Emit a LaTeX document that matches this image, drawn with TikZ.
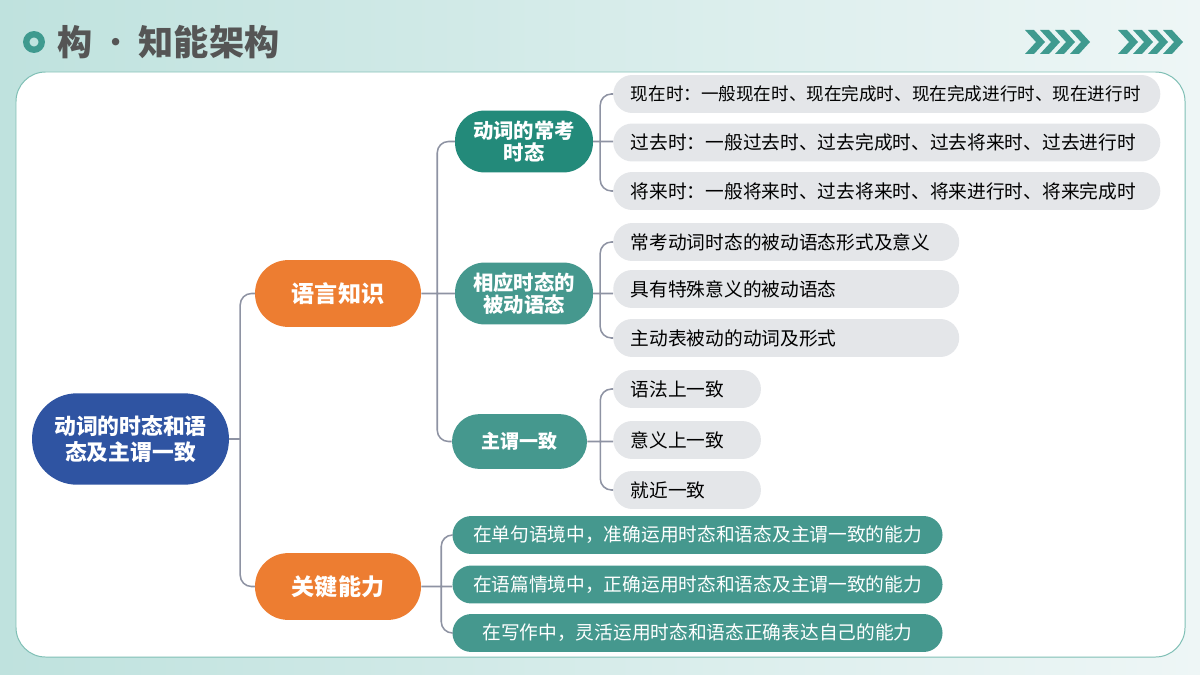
\documentclass[tikz,border=0pt]{standalone}
\usepackage{fontspec}
\newfontfamily\cjk{Noto Sans CJK SC}
\definecolor{rootBlue}{HTML}{2F54A2}
\definecolor{topicOrange}{HTML}{ED7D31}
\definecolor{tenseTeal}{HTML}{238A7A}
\definecolor{subTeal}{HTML}{45988E}
\definecolor{leafGray}{HTML}{E4E6E9}
\definecolor{lineGray}{HTML}{8E93A3}
\definecolor{titleGray}{HTML}{555555}
\definecolor{bgLeft}{HTML}{BFE2DE}
\definecolor{bgRight}{HTML}{EEF6F6}
\definecolor{frameTeal}{HTML}{7FBFB5}
\definecolor{markTeal}{HTML}{3F9A8F}

\begin{document}
\begin{tikzpicture}[x=0.025cm, y=-0.025cm, inner sep=0pt,
    rootnode/.style={rectangle, rounded corners=32pt, fill=rootBlue, text=white, align=center,
      font=\cjk\bfseries\fontsize{15.5}{18.5}\selectfont, minimum width=140pt, minimum height=65pt},
    topic/.style={rectangle, rounded corners=23.5pt, fill=topicOrange, text=white,
      font=\cjk\bfseries\fontsize{16.4}{19}\selectfont, minimum width=118pt, minimum height=47.5pt},
    sub/.style={rectangle, rounded corners=21pt, text=white, align=center,
      font=\cjk\bfseries\fontsize{14.5}{15.5}\selectfont, minimum width=98pt, minimum height=44pt},
    leaf/.style={rectangle, rounded corners=13.5pt, fill=leafGray, text=black, align=left, anchor=west,
      font=\cjk\fontsize{13.3}{15}\selectfont, inner xsep=12.5pt, minimum height=27pt, text width=#1},
    skill/.style={rectangle, rounded corners=13.5pt, fill=subTeal, text=white,
      font=\cjk\fontsize{13.3}{15}\selectfont, minimum width=348.5pt, minimum height=27pt},
    branch/.style={draw=lineGray, line width=1.1pt, rounded corners=8pt}]
  \useasboundingbox (0,0) rectangle (1200,675);
  \shade[left color=bgLeft, right color=bgRight] (0,0) rectangle (1200,675);
  \fill[white, rounded corners=21pt] (16,72) rectangle (1185,657);
  \draw[frameTeal, line width=0.7pt, rounded corners=21pt] (16,72) rectangle (1185,657);
  % header
  \draw[markTeal, line width=4.5pt] (34,42) circle [radius=5.5pt];
  \node (title) [anchor=west, text=titleGray, font=\cjk\bfseries\fontsize{25}{28}\selectfont]
    at (57,42) {构\hspace{4pt}{\mdseries ·}\hspace{4pt}知能架构};
  \foreach \x in {1025,1040,1055,1070,1118,1133,1148,1163}
    \fill[markTeal] (\x,30) -- ++(9,0) -- ++(11,12) -- ++(-11,12) -- ++(-9,0) -- ++(11,-12) -- cycle;
  % nodes
  \path node (root)    at (130.5,439)  [rootnode] {动词的时态和语\\态及主谓一致}
        node (lang)    at (338,293.5)  [topic] {语言知识}
        node (ability) at (338,586.5)  [topic] {关键能力}
        %
        node (tense)   at (524,141.5)  [sub, fill=tenseTeal] {动词的常考\\时态}
        node (passive) at (524,293.5)  [sub, fill=subTeal] {相应时态的\\被动语态}
        node (agree)   at (519.5,441.5) [sub, fill=subTeal, minimum width=96pt, minimum height=39pt,
                                        rounded corners=19.5pt, font=\cjk\bfseries\fontsize{13.5}{15}\selectfont] {主谓一致}
        %
        node (t1) at (613,94)    [leaf=364pt, font=\cjk\fontsize{12.5}{14}\selectfont] {现在时：一般现在时、现在完成时、现在完成进行时、现在进行时}
        node (t2) at (613,142.5) [leaf=364pt] {过去时：一般过去时、过去完成时、过去将来时、过去进行时}
        node (t3) at (613,191)   [leaf=364pt] {将来时：一般将来时、过去将来时、将来进行时、将来完成时}
        node (p1) at (613,242)   [leaf=221pt] {常考动词时态的被动语态形式及意义}
        node (p2) at (613,289)   [leaf=221pt] {具有特殊意义的被动语态}
        node (p3) at (613,338)   [leaf=221pt] {主动表被动的动词及形式}
        node (a1) at (613,389)   [leaf=80pt] {语法上一致}
        node (a2) at (613,440)   [leaf=80pt] {意义上一致}
        node (a3) at (613,490)   [leaf=80pt] {就近一致}
        %
        node (s1) at (697.5,535)   [skill] {在单句语境中，准确运用时态和语态及主谓一致的能力}
        node (s2) at (697.5,584.5) [skill] {在语篇情境中，正确运用时态和语态及主谓一致的能力}
        node (s3) at (697.5,633)   [skill] {在写作中，灵活运用时态和语态正确表达自己的能力};
  % connectors
  \draw[branch] (root.east) -- ++(11,0) coordinate (k0)
        (k0) |- (lang.west)
        (k0) |- (ability.west)
        %
        (lang.east) -- ++(16,0) coordinate (k1)
        (k1) |- (tense.west)
        (k1) -- (passive.west)
        (k1) |- (agree.west)
        %
        (tense.east) -- ++(7,0) coordinate (k2)
        (k2) |- (t1.west)
        (k2) -- (t2.west |- k2)
        (k2) |- (t3.west)
        %
        (passive.east) -- ++(7,0) coordinate (k3)
        (k3) |- (p1.west)
        (k3) -- (p2.west |- k3)
        (k3) |- (p3.west)
        %
        (agree.east) -- ++(13,0) coordinate (k4)
        (k4) |- (a1.west)
        (k4) -- (a2.west |- k4)
        (k4) |- (a3.west)
        %
        (ability.east) -- ++(20,0) coordinate (k5)
        (k5) |- (s1.west)
        (k5) -- (s2.west |- k5)
        (k5) |- (s3.west);
\end{tikzpicture}
\end{document}
